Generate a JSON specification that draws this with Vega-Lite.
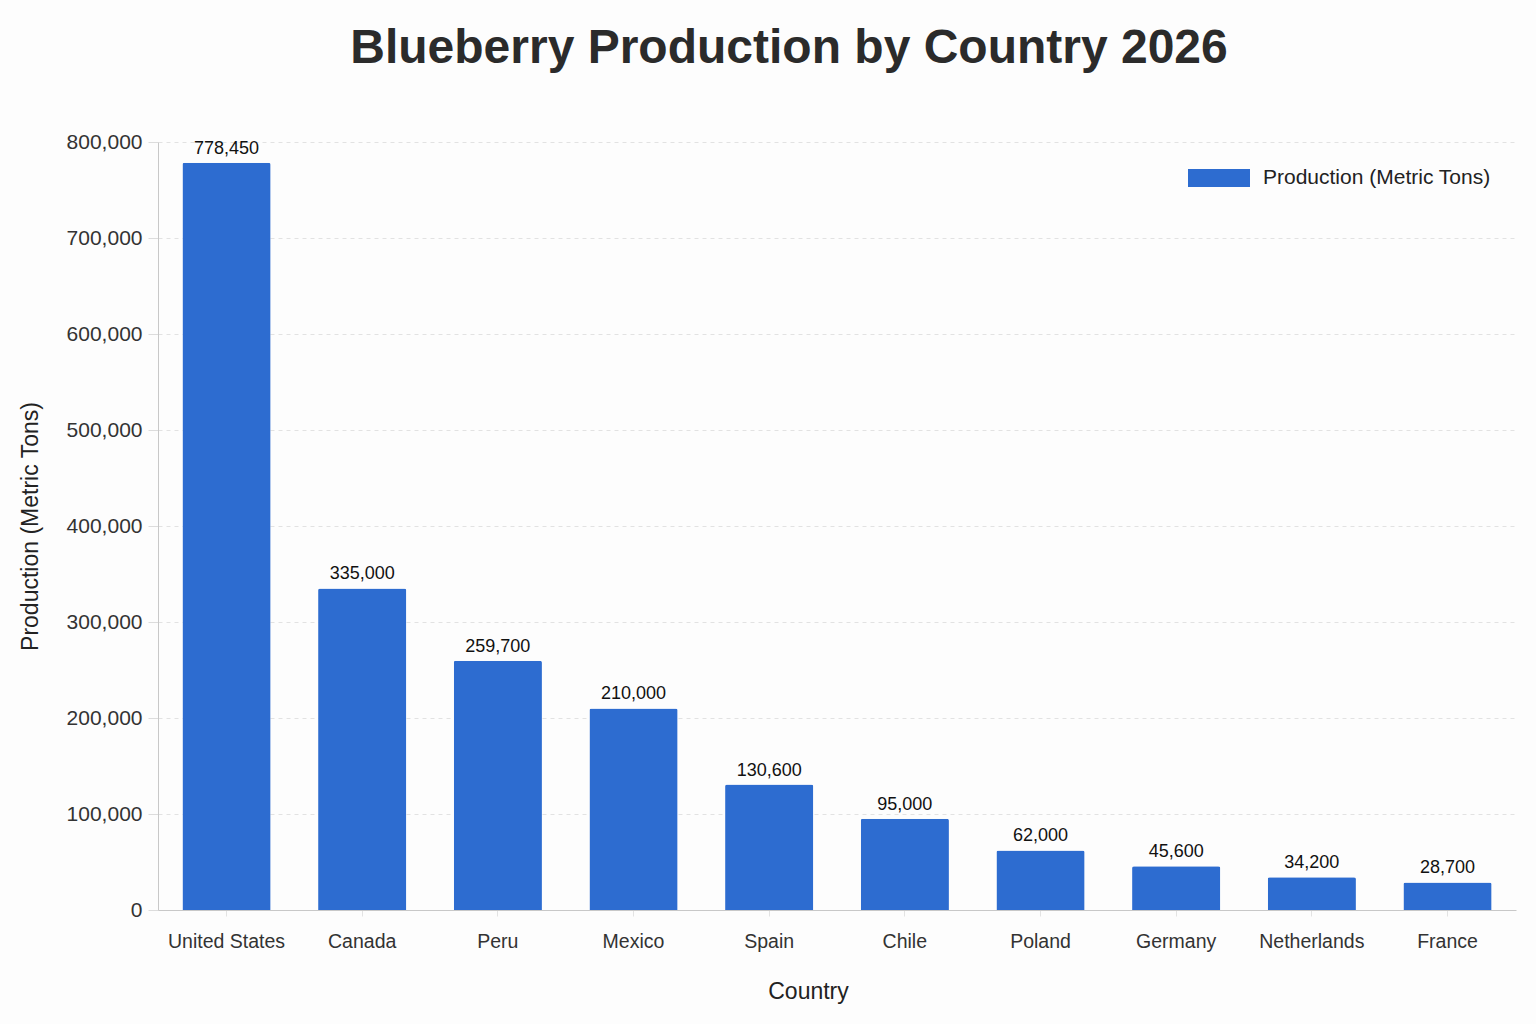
{
  "$schema": "https://vega.github.io/schema/vega-lite/v6.json",
  "width": 1358,
  "height": 768,
  "autosize": {"type": "none"},
  "padding": {"left": 158, "top": 142, "right": 20, "bottom": 114},
  "background": "#fdfdfd",
  "title": {
    "text": "Blueberry Production by Country 2026",
    "fontSize": 48,
    "fontWeight": "bold",
    "font": "Liberation Sans",
    "color": "#2b2b2b",
    "anchor": "middle",
    "dx": -48,
    "offset": 58
  },
  "data": {
    "values": [
      {"country": "United States", "production": 778450},
      {"country": "Canada", "production": 335000},
      {"country": "Peru", "production": 259700},
      {"country": "Mexico", "production": 210000},
      {"country": "Spain", "production": 130600},
      {"country": "Chile", "production": 95000},
      {"country": "Poland", "production": 62000},
      {"country": "Germany", "production": 45600},
      {"country": "Netherlands", "production": 34200},
      {"country": "France", "production": 28700}
    ]
  },
  "encoding": {
    "x": {
      "field": "country",
      "type": "nominal",
      "sort": null,
      "title": "Country",
      "scale": {"paddingInner": 0.35, "paddingOuter": 0.18},
      "axis": {
        "labelAngle": 0,
        "labelFontSize": 19.5,
        "labelColor": "#333",
        "labelPadding": 16,
        "tickColor": "#e3e3e3",
        "tickSize": 6,
        "domainColor": "#c8c8c8",
        "titleFontSize": 23,
        "titleFontWeight": "normal",
        "titleColor": "#222",
        "titlePadding": 30,
        "titleX": 650
      }
    },
    "y": {
      "field": "production",
      "type": "quantitative",
      "title": "Production (Metric Tons)",
      "scale": {"domain": [0, 800000]},
      "axis": {
        "values": [0, 100000, 200000, 300000, 400000, 500000, 600000, 700000, 800000],
        "format": ",d",
        "labelFontSize": 21,
        "labelColor": "#333",
        "labelPadding": 6,
        "tickColor": "#dcdcdc",
        "tickSize": 10,
        "domainColor": "#c8c8c8",
        "gridColor": "#e2e2e2",
        "gridDash": [4, 4],
        "titleFontSize": 23,
        "titleFontWeight": "normal",
        "titleColor": "#222",
        "titlePadding": 24
      }
    }
  },
  "layer": [
    {
      "mark": {"type": "bar", "cornerRadiusTopLeft": 2, "cornerRadiusTopRight": 2},
      "encoding": {
        "color": {
          "datum": "Production (Metric Tons)",
          "type": "nominal",
          "scale": {"range": ["#2d6cd0"]},
          "legend": {
            "title": null,
            "orient": "none",
            "legendX": 1030,
            "legendY": 5,
            "symbolType": "M-1,-0.29H1V0.29H-1Z",
            "symbolSize": 3844,
            "symbolStrokeWidth": 0,
            "labelFontSize": 21,
            "labelColor": "#222",
            "labelOffset": 13,
            "labelLimit": 400
          }
        }
      }
    },
    {
      "mark": {"type": "text", "dy": -14, "fontSize": 18, "color": "#111"},
      "encoding": {
        "text": {"field": "production", "type": "quantitative", "format": ","}
      }
    }
  ],
  "config": {
    "font": "Liberation Sans",
    "view": {"stroke": null}
  }
}
